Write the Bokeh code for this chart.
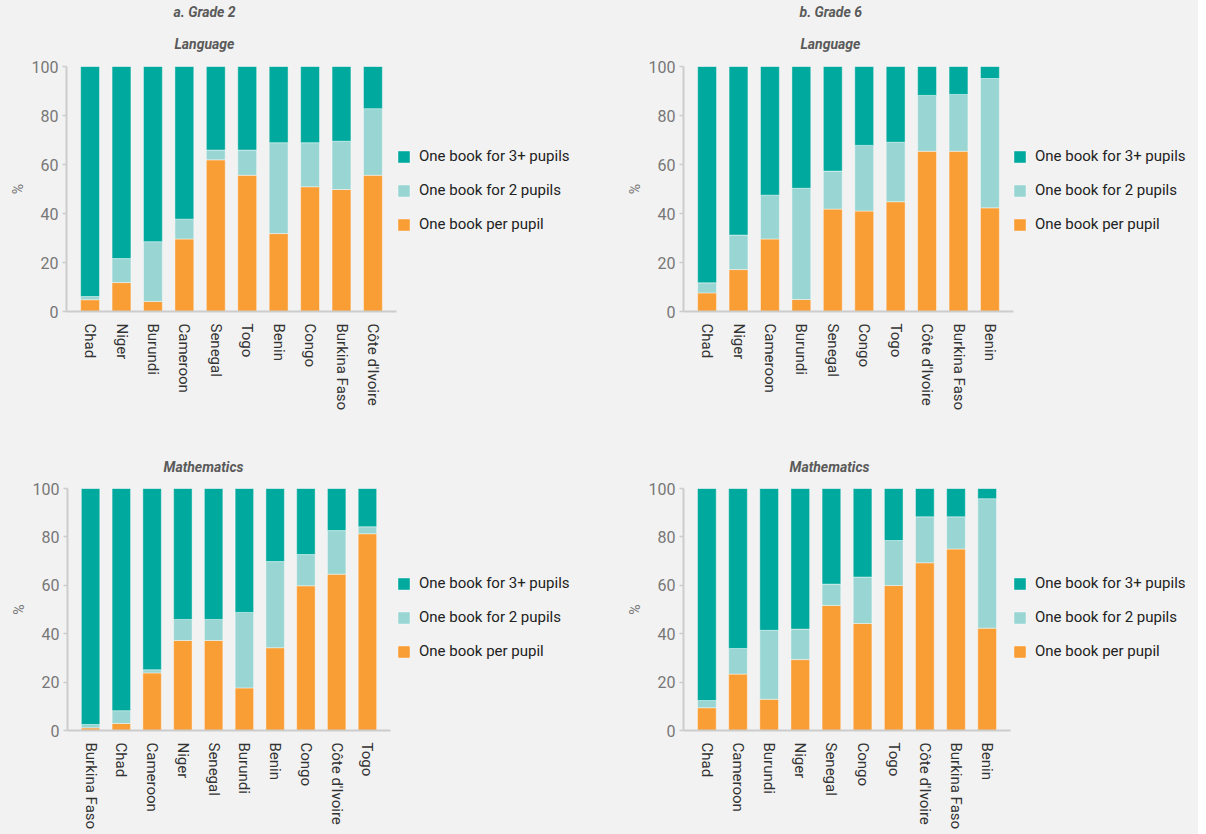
from bokeh.plotting import figure
from bokeh.layouts import row, column
from bokeh.models import (Range1d, FixedTicker, Legend, LegendItem, Title,
                          ColumnDataSource)
from bokeh.embed import file_html
from bokeh.resources import INLINE

# ---------------- data ----------------
series_labels = ["One book per pupil", "One book for 2 pupils", "One book for 3+ pupils"]
y_ticks = [0, 20, 40, 60, 80, 100]

# a. Grade 2 – Language
a_countries = ["Chad", "Niger", "Burundi", "Cameroon", "Senegal", "Togo", "Benin",
               "Congo", "Burkina Faso", "Côte d'Ivoire"]
a_per_pupil = [4.8, 11.8, 4.1, 29.6, 61.9, 55.6, 31.8, 50.9, 49.8, 55.6]
a_two_pupils = [1.3, 9.8, 24.4, 8.1, 4.0, 10.3, 37.1, 18.0, 19.7, 27.2]
a_three_plus = [93.9, 78.4, 71.5, 62.3, 34.1, 34.1, 31.1, 31.1, 30.5, 17.2]

# b. Grade 6 – Language
b_countries = ["Chad", "Niger", "Cameroon", "Burundi", "Senegal", "Congo", "Togo",
               "Côte d'Ivoire", "Burkina Faso", "Benin"]
b_per_pupil = [7.6, 17.1, 29.6, 4.9, 41.8, 41.0, 44.8, 65.4, 65.4, 42.3]
b_two_pupils = [4.1, 14.1, 17.9, 45.4, 15.5, 26.8, 24.3, 22.8, 23.2, 52.8]
b_three_plus = [88.3, 68.8, 52.5, 49.7, 42.7, 32.2, 30.9, 11.8, 11.4, 4.9]

# Grade 2 – Mathematics
c_countries = ["Burkina Faso", "Chad", "Cameroon", "Niger", "Senegal", "Burundi", "Benin",
               "Congo", "Côte d'Ivoire", "Togo"]
c_per_pupil = [1.1, 2.9, 23.8, 37.2, 37.2, 17.6, 34.2, 59.8, 64.6, 81.3]
c_two_pupils = [1.4, 5.3, 1.3, 8.7, 8.7, 31.2, 35.6, 12.9, 18.0, 2.9]
c_three_plus = [97.5, 91.8, 74.9, 54.1, 54.1, 51.2, 30.2, 27.3, 17.4, 15.8]

# Grade 6 – Mathematics
d_countries = ["Chad", "Cameroon", "Burundi", "Niger", "Senegal", "Congo", "Togo",
               "Côte d'Ivoire", "Burkina Faso", "Benin"]
d_per_pupil = [9.4, 23.3, 12.9, 29.3, 51.7, 44.2, 59.9, 69.3, 75.0, 42.3]
d_two_pupils = [3.0, 10.6, 28.5, 12.6, 8.8, 19.2, 18.6, 19.0, 13.3, 53.5]
d_three_plus = [87.6, 66.1, 58.6, 58.1, 39.5, 36.6, 21.5, 11.7, 11.7, 4.2]

# ---------------- style ----------------
BG = "#f2f2f2"
COLORS = ["#F99D35", "#99D6D3", "#00A99D"]
FONT = "Roboto"
PAD = 0.75  # category padding on each side of the axis


def make_panel(cats, per, two, three, titles, width, height,
               mb_left, mb_top, mb_bottom, axis_px, legend_loc):
    n = len(cats)
    pos = list(range(n))
    frame_px = width - mb_left
    unit_px = axis_px / (n - 1 + 2 * PAD)
    x_start = -PAD
    x_end = x_start + frame_px / unit_px

    p = figure(x_range=Range1d(x_start, x_end), y_range=Range1d(0, 100),
               width=width, height=height,
               min_border_left=mb_left, min_border_top=mb_top,
               min_border_right=0, min_border_bottom=mb_bottom,
               output_backend="svg", toolbar_location=None,
               background_fill_color=BG, border_fill_color=BG)
    p.outline_line_color = None
    p.grid.grid_line_color = None

    src = ColumnDataSource(dict(x=pos, per=per, two=two, three=three))
    rs = p.vbar_stack(["per", "two", "three"], x="x", width=0.6, color=COLORS,
                      line_color="white", line_width=0.6, line_alpha=0.7, source=src)

    # y axis
    p.yaxis.ticker = FixedTicker(ticks=y_ticks)
    p.yaxis.axis_label = "%"
    p.yaxis.axis_label_text_font = FONT
    p.yaxis.axis_label_text_font_style = "normal"
    p.yaxis.axis_label_text_font_size = "14px"
    p.yaxis.axis_label_text_color = "#777777"
    p.yaxis.axis_label_standoff = 3
    p.yaxis.major_label_text_font = FONT
    p.yaxis.major_label_text_font_size = "16px"
    p.yaxis.major_label_text_color = "#777777"
    p.yaxis.major_label_standoff = 4
    p.yaxis.major_tick_out = 4
    p.yaxis.major_tick_in = 0
    p.yaxis.major_tick_line_color = "#cccccc"
    p.yaxis.major_tick_line_width = 1.5
    p.yaxis.minor_tick_line_color = None
    p.yaxis.axis_line_color = "#cccccc"
    p.yaxis.axis_line_width = 2

    # x axis (country names)
    p.xaxis.ticker = FixedTicker(ticks=pos)
    p.xaxis.major_label_overrides = {i: c for i, c in zip(pos, cats)}
    p.xaxis.bounds = (-PAD, n - 1 + PAD)
    p.xaxis.major_label_orientation = "vertical"
    p.xaxis.major_label_text_font = FONT
    p.xaxis.major_label_text_font_size = "15px"
    p.xaxis.major_label_text_color = "#333333"
    p.xaxis.major_label_standoff = 12
    p.xaxis.major_tick_line_color = None
    p.xaxis.minor_tick_line_color = None
    p.xaxis.major_tick_out = 0
    p.xaxis.axis_line_color = "#cccccc"
    p.xaxis.axis_line_width = 2

    # titles (nearest to the frame first)
    for text, offset, standoff in titles:
        p.add_layout(Title(text=text, align="left", offset=offset, standoff=standoff,
                           text_font=FONT, text_font_style="bold italic",
                           text_font_size="14px", text_color="#5a5a5a"), "above")

    items = [LegendItem(label=series_labels[i], renderers=[rs[i]]) for i in (2, 1, 0)]
    legend = Legend(items=items, location=legend_loc, glyph_width=15, glyph_height=15,
                    label_height=20, spacing=14, padding=4, margin=0,
                    border_line_color=None, background_fill_alpha=0,
                    label_text_font=FONT, label_text_font_size="15px",
                    label_text_color="#222222", label_standoff=8)
    p.add_layout(legend)
    return p


pa = make_panel(a_countries, a_per_pupil, a_two_pupils, a_three_plus,
                [("Language", 108, 29), ("a. Grade 2", 107, 0)],
                621, 440, 66, 66, 129, 330, (330, 77))
pb = make_panel(b_countries, b_per_pupil, b_two_pupils, b_three_plus,
                [("Language", 117, 29), ("b. Grade 6", 116, 0)],
                577, 440, 62, 66, 129, 330, (329, 77))
pc = make_panel(c_countries, c_per_pupil, c_two_pupils, c_three_plus,
                [("Mathematics", 96, 27)],
                621, 400, 67, 48, 110, 323, (329, 69))
pd = make_panel(d_countries, d_per_pupil, d_two_pupils, d_three_plus,
                [("Mathematics", 106, 27)],
                577, 400, 62, 48, 107, 327, (329, 69))

r1 = row(pa, pb)
r2 = row(pc, pd)
layout = column(r1, r2)
for m in (r1, r2, layout):
    m.styles = {"background-color": BG}

html = file_html(layout, INLINE, title="Textbooks per pupil")
html = html.replace("<body>", '<body style="background:#f2f2f2;overflow:hidden;margin:8px;">', 1)
open("out.html", "w").write(html)
